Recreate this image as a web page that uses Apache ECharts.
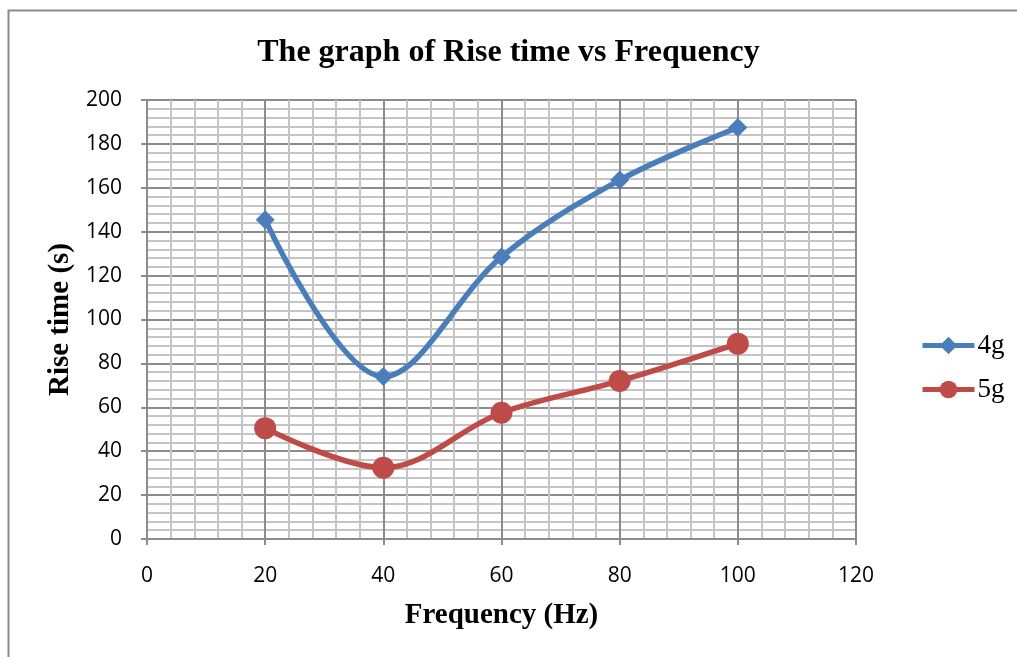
<!DOCTYPE html>
<html>
<head>
<meta charset="utf-8">
<script src="https://cdn.jsdelivr.net/npm/echarts@6/dist/echarts.min.js"></script>
<style>html,body{margin:0;padding:0;background:#fff}#c{width:1017px;height:657px}</style>
</head>
<body>
<div id="c"></div>
<script>
var frequency = [20, 40, 60, 80, 100];
var series4g = [145.5, 74, 128.5, 163.5, 187.5];
var series5g = [50.5, 32.5, 57.5, 72, 89];
var seriesNames = ['4g', '5g'];
var titleText = 'The graph of Rise time vs Frequency';
var xName = 'Frequency (Hz)';
var yName = 'Rise time (s)';

var chart = echarts.init(document.getElementById('c'));
function pairs(xs, ys){ return xs.map(function(x,i){return [x, ys[i]];}); }
var serif = '"Liberation Serif", "Times New Roman", serif';
var sans = '"Open Sans", "Liberation Sans", sans-serif';
chart.setOption({
  animation: false,
  backgroundColor: '#fff',
  graphic: [{
    type: 'rect', left: 6, top: 8, shape: {width: 1100, height: 700},
    style: {fill: 'none', stroke: '#8c8c8c', lineWidth: 2}, z: -10
  }],
  title: {
    text: titleText, left: 'center', top: 32,
    textStyle: {fontFamily: serif, fontWeight: 'bold', fontSize: 32, color: '#000'}
  },
  grid: {left: 147, top: 100, width: 709, height: 439, containLabel: false},
  legend: {
    orient: 'vertical', left: 915, top: 327, itemWidth: 52, itemHeight: 22, itemGap: 17,
    textStyle: {fontFamily: serif, fontSize: 27, color: '#000', padding: [0,0,0,-2]},
    lineStyle: {width: 5},
    data: seriesNames
  },
  xAxis: {
    type: 'value', min: 0, max: 120, interval: 20,
    name: xName, nameLocation: 'middle', nameGap: 62,
    nameTextStyle: {fontFamily: serif, fontWeight: 'bold', fontSize: 29, color: '#000'},
    axisLine: {show: true, lineStyle: {color: '#8c8c8c', width: 2}},
    axisTick: {show: true, length: 6, lineStyle: {color: '#8c8c8c', width: 2}},
    axisLabel: {fontFamily: sans, fontSize: 21, color: '#000', margin: 27},
    splitLine: {show: true, lineStyle: {color: '#8c8c8c', width: 2}},
    minorTick: {show: false, splitNumber: 5},
    minorSplitLine: {show: true, lineStyle: {color: '#c4c4c4', width: 2}}
  },
  yAxis: {
    type: 'value', min: 0, max: 200, interval: 20,
    name: yName, nameLocation: 'middle', nameGap: 72, nameRotate: 90,
    nameTextStyle: {fontFamily: serif, fontWeight: 'bold', fontSize: 29, color: '#000'},
    axisLine: {show: true, lineStyle: {color: '#8c8c8c', width: 2}},
    axisTick: {show: true, length: 6, lineStyle: {color: '#8c8c8c', width: 2}},
    axisLabel: {fontFamily: sans, fontSize: 21, color: '#000', margin: 25},
    splitLine: {show: true, lineStyle: {color: '#8c8c8c', width: 2}},
    minorTick: {show: false, splitNumber: 5},
    minorSplitLine: {show: true, lineStyle: {color: '#c4c4c4', width: 2}}
  },
  series: [{
    name: seriesNames[0], type: 'line', data: pairs(frequency, series4g), smooth: 0.35,
    symbol: 'diamond', symbolSize: 19,
    lineStyle: {color: '#4a7ebb', width: 5.5},
    itemStyle: {color: '#4a7ebb'}
  }, {
    name: seriesNames[1], type: 'line', data: pairs(frequency, series5g), smooth: 0.35,
    symbol: 'circle', symbolSize: 22,
    lineStyle: {color: '#be4b48', width: 5.5},
    itemStyle: {color: '#be4b48'}
  }]
});
</script>
</body>
</html>
